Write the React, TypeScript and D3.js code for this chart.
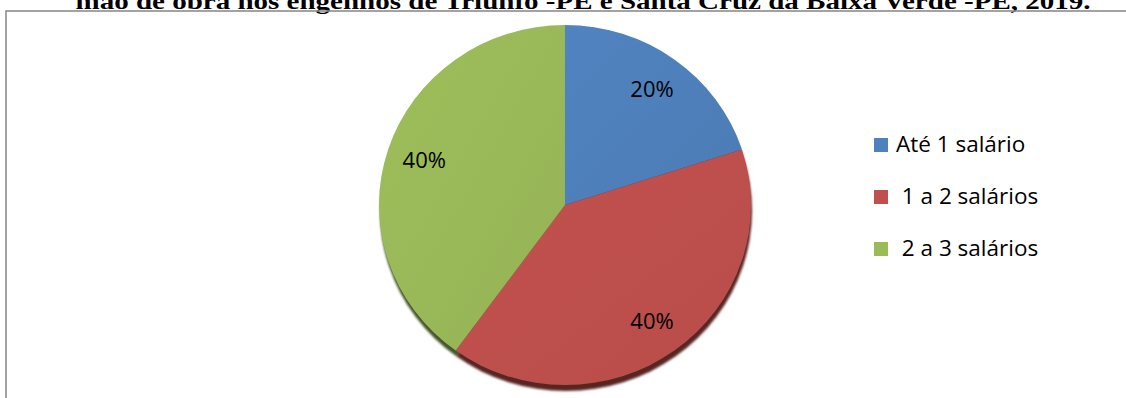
import React from "react";
import * as d3 from "d3";

const title = "mão de obra nos engenhos de Triunfo -PE e Santa Cruz da Baixa Verde -PE, 2019.";
const categories = ["Até 1 salário", " 1 a 2 salários", " 2 a 3 salários"];
const values = [20, 40, 40];
const labels = ["20%", "40%", "40%"];
const colors = ["#4f81bd", "#c0504d", "#9bbb59"];

const W = 1126;
const H = 398;

export default function App() {
  const cx = 565;
  const cy = 205;
  const rx = 186;
  const ry = 180;
  const pie = d3.pie<number>().sort(null).value((d) => d);
  const arcs = pie(values);
  const arc = d3.arc<d3.PieArcDatum<number>>().innerRadius(0).outerRadius(rx);
  const labelArc = d3.arc<d3.PieArcDatum<number>>().innerRadius(148).outerRadius(148);
  const sy = ry / rx;

  return (
    <svg
      width={W}
      height={H}
      style={{ position: "absolute", left: 0, top: 0, background: "#fff" }}
    >
      <defs>
        <filter id="blur" x="-10%" y="-10%" width="120%" height="120%">
          <feGaussianBlur stdDeviation="0.9" />
        </filter>
        {colors.map((c, i) => (
          <linearGradient key={i} id={`g${i}`} x1="0" y1="0" x2="1" y2="1">
            <stop offset="0%" stopColor={d3.color(c)!.brighter(0.05).toString()} />
            <stop offset="100%" stopColor={d3.color(c)!.darker(0.12).toString()} />
          </linearGradient>
        ))}
      </defs>
      <text
        x={583}
        y={9}
        textAnchor="middle"
        fontFamily="'Liberation Serif', 'Times New Roman', serif"
        fontWeight="bold"
        fontSize={24}
        textLength={1015}
        lengthAdjust="spacingAndGlyphs"
        fill="#000"
      >
        {title}
      </text>
      <rect x={6} y={11} width={1130} height={400} fill="none" stroke="#8c8c8c" strokeWidth={1.6} />

      <g transform={`translate(${cx + 1},${cy + 6}) scale(1,${sy})`} filter="url(#blur)">
        {arcs.map((a, i) => (
          <path key={i} d={arc(a) || ""} fill={d3.color(colors[i])!.darker(2.2).toString()} />
        ))}
      </g>
      <g transform={`translate(${cx},${cy}) scale(1,${sy})`}>
        {arcs.map((a, i) => (
          <path key={i} d={arc(a) || ""} fill={`url(#g${i})`} />
        ))}
      </g>
      <g transform={`translate(${cx},${cy})`}>
        {arcs.map((a, i) => {
          const [lx, ly] = labelArc.centroid(a);
          return (
            <text
              key={i}
              x={lx}
              y={ly * sy}
              dy="0.35em"
              textAnchor="middle"
              fontFamily="'Open Sans', sans-serif"
              fontSize={22}
              fill="#000"
            >
              {labels[i]}
            </text>
          );
        })}
      </g>

      <g transform="translate(874,138)">
        {categories.map((c, i) => (
          <g key={i} transform={`translate(0,${i * 52})`}>
            <rect x={0} y={0} width={14} height={14} fill={colors[i]} />
            <text
              x={22}
              y={14}
              fontFamily="'Open Sans', sans-serif"
              fontSize={22.5}
              fill="#000"
              style={{ whiteSpace: "pre" }}
            >
              {c}
            </text>
          </g>
        ))}
      </g>
    </svg>
  );
}
